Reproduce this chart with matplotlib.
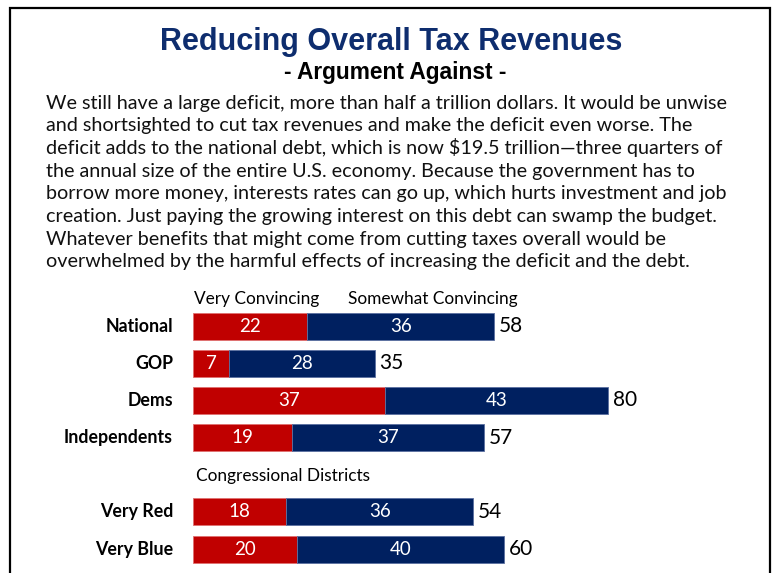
import matplotlib
matplotlib.use("Agg")
import matplotlib.pyplot as plt
from matplotlib.patches import Rectangle

# Survey results: share finding the argument convincing
groups = ["National", "GOP", "Dems", "Independents", "Very Red", "Very Blue"]
very = [22, 7, 37, 19, 18, 20]
somewhat = [36, 28, 43, 37, 36, 40]
totals = [58, 35, 80, 57, 54, 60]
rows = [0, 1, 2, 3, 5, 6]

title = "Reducing Overall Tax Revenues"
subtitle = "- Argument Against -"
body_lines = [
    "We still have a large deficit, more than half a trillion dollars. It would be unwise",
    "and shortsighted to cut tax revenues and make the deficit even worse. The",
    "deficit adds to the national debt, which is now $19.5 trillion\u2014three quarters of",
    "the annual size of the entire U.S. economy. Because the government has to",
    "borrow more money, interests rates can go up, which hurts investment and job",
    "creation. Just paying the growing interest on this debt can swamp the budget.",
    "Whatever benefits that might come from cutting taxes overall would be",
    "overwhelmed by the harmful effects of increasing the deficit and the debt.",
]

RED = "#C00000"
NAVY = "#002060"
W, H = 777, 573

fig = plt.figure(figsize=(W / 100, H / 100), dpi=100)
fig.patch.set_facecolor("white")

# frame around the slide
fig.patches.append(Rectangle((10 / W, -0.05), 760 / W, 1.05 - 8 / H,
                             transform=fig.transFigure, fill=False,
                             edgecolor="black", linewidth=1.6))

fig.text(391 / W, 1 - 42 / H, title, ha="center", va="center",
         fontsize=22, fontweight="bold", color="#0E2D6E",
         family="Liberation Sans")
fig.text(395 / W, 1 - 72 / H, subtitle, ha="center", va="center",
         fontsize=16.4, fontweight="bold", color="black",
         family="Liberation Sans")

# paragraph, one line at a time so the spacing stays even
for i, line in enumerate(body_lines):
    fig.text(46 / W, 1 - (108.5 + i * 22.7) / H, line, ha="left",
             va="baseline", fontsize=14.2, color="#111111", family="Lato")

# bar area: 1 unit = 5.19 px, rows 37.17 px apart
px_unit = 5.19
px_row = 37.17
x0, top = 193, 280
xmax = 110
ax = fig.add_axes([x0 / W, 0, xmax * px_unit / W, 1 - top / H])
ax.set_xlim(0, xmax)
y_top = -(326 - top) / px_row
y_bot = (H - 326) / px_row
ax.set_ylim(y_bot, y_top)
ax.axis("off")

bh = 27 / px_row
ax.barh(rows, very, height=bh, color=RED, edgecolor="#E07070", linewidth=0.6)
ax.barh(rows, somewhat, left=very, height=bh, color=NAVY,
        edgecolor="#5A6FA0", linewidth=0.6)

for r, g, v, s, t in zip(rows, groups, very, somewhat, totals):
    ax.text(v / 2, r, str(v), ha="center", va="center", color="white",
            fontsize=13.5, family="Lato")
    ax.text(v + s / 2, r, str(s), ha="center", va="center", color="white",
            fontsize=13.5, family="Lato")
    ax.text(v + s + 0.9, r, str(t), ha="left", va="center",
            color="black", fontsize=15, family="Lato")
    ax.text(-3.85, r, g, ha="right", va="center", fontsize=12.8,
            fontweight="bold", family="Lato", clip_on=False)

ax.text(12.3, -0.73, "Very Convincing", ha="center", va="center",
        fontsize=12.4, family="Lato")
ax.text(46.2, -0.73, "Somewhat Convincing", ha="center", va="center",
        fontsize=12.4, family="Lato")
ax.text(0.5, 4.03, "Congressional Districts", ha="left", va="center",
        fontsize=12.4, family="Lato")

fig.savefig("out.png", dpi=100)
